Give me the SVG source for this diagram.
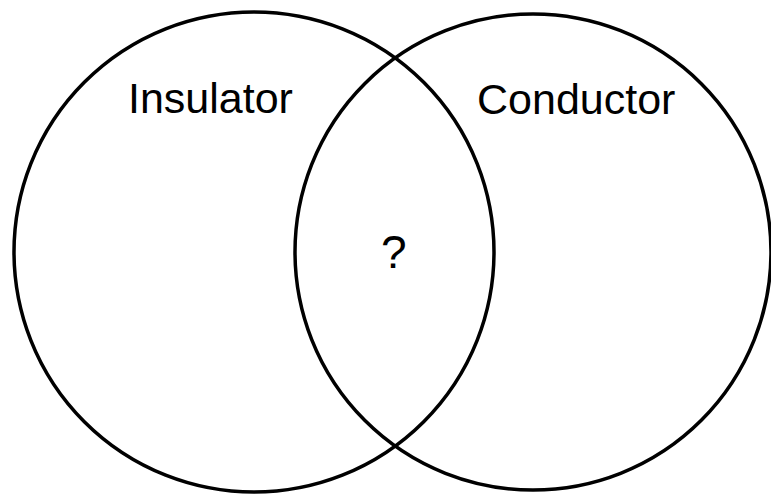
<svg xmlns="http://www.w3.org/2000/svg" width="771" height="497" viewBox="0 0 771 497">
<style>
.c{fill:none;stroke:#000;stroke-width:3.5}
.t{font-family:"Liberation Sans",Arial,sans-serif;font-size:43px;fill:#000}
</style>
<rect width="771" height="497" fill="#fff"/>
<g id="connectors"></g>
<g id="insulator"><circle class="c" cx="254" cy="252" r="240"/><text class="t" x="128" y="113">Insulator</text></g>
<g id="conductor"><circle class="c" cx="533" cy="252" r="238"/><text class="t" x="477" y="114">Conductor</text></g>
<g id="overlap"><text class="t" x="381" y="268" style="font-size:46px">?</text></g>
</svg>
